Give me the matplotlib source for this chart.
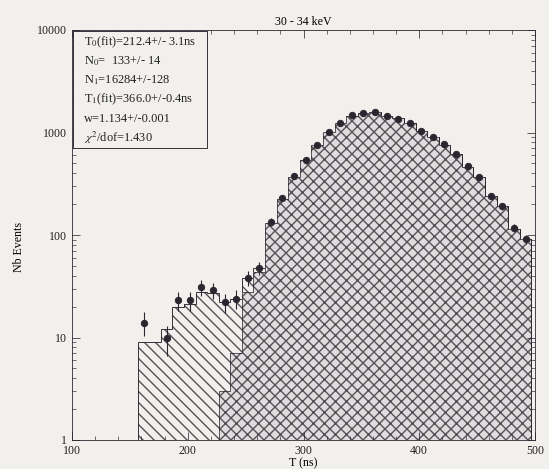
import numpy as np
import matplotlib
matplotlib.use('Agg')
import matplotlib.pyplot as plt
from matplotlib.ticker import MultipleLocator, LogLocator, FuncFormatter, NullFormatter
from matplotlib.patches import Rectangle

# binning of the time spectrum (ns)
bin_lo = 156.8
bin_w = 10.0
n_bins = 34

# measured counts per bin (nan = empty bin)
counts = [14, np.nan, 9.8, 23, 23, 31, 29, 22, 24, 38,
          48, 134, 228, 375, 540, 760, 1020, 1250, 1480, 1560,
          1580, 1450, 1360, 1250, 1040, 910, 770, 620, 470, 365,
          242, 190, 117, 91]

# fitted components: early peak (T0) and main peak (T1)
fit_t0 = [9, 9, 12, 20, 21, 28, 27, 19, 17, 10, 4, 1] + [0] * 22
fit_t1 = [0] * 7 + [3, 7, 28, 44, 130, 225, 370, 535, 750, 1010,
                    1240, 1460, 1550, 1570, 1460, 1370, 1240, 1030, 910, 760,
                    615, 465, 365, 240, 190, 115, 92]

fit_lines = ["T$_0$(fit)=212.4+/- 3.1ns",
             "N$_0$=  133+/- 14",
             "N$_1$=16284+/-128",
             "T$_1$(fit)=366.0+/-0.4ns",
             "w=1.134+/-0.001",
             "$\\chi^2$/dof=1.430"]

title = "30 - 34 keV"
xticks = [100, 200, 300, 400, 500]
yticks = [1, 10, 100, 1000, 10000]

bg = '#f2f0ed'
ink = '#2b2530'
hatch_col = '#555058'

plt.rcParams['font.family'] = ['Liberation Serif', 'DejaVu Serif']
plt.rcParams['mathtext.fontset'] = 'stix'
plt.rcParams['hatch.linewidth'] = 1.5

DPI = 66
fig = plt.figure(figsize=(549 / DPI, 469 / DPI), dpi=DPI, facecolor=bg)
ax = fig.add_axes([72 / 549, 1 - 440 / 469, 463 / 549, 410 / 469])
ax.set_facecolor(bg)

edges = bin_lo + bin_w * np.arange(n_bins + 1)
centers = edges[:-1] + bin_w / 2
t0 = np.array(fit_t0, dtype=float)
t1 = np.array(fit_t1, dtype=float)
total = t0 + t1
data = np.array(counts, dtype=float)

# total fit, then the main component on top of it
ax.stairs(np.clip(total, 1, None), edges, baseline=1, fill=True,
          facecolor=bg, edgecolor=hatch_col, hatch='\\\\', lw=0)
ax.stairs(np.clip(total, 1, None), edges, baseline=1, color=ink, lw=1)
ax.stairs(np.clip(t1, 1, None), edges, baseline=1, fill=True,
          facecolor='#dedcdc', edgecolor=hatch_col, hatch='xx', lw=0)
ax.stairs(np.clip(t1, 1, None), edges, baseline=1, color=ink, lw=0.8)

ax.errorbar(centers, data, yerr=np.sqrt(data), fmt='o', ms=7,
            color=ink, ecolor=ink, elinewidth=1.2, capsize=0, zorder=5)

ax.set_yscale('log')
ax.set_xlim(100, 500)
ax.set_ylim(1, 10000)
ax.set_xticks(xticks)
ax.xaxis.set_minor_locator(MultipleLocator(20))
ax.set_yticks(yticks)
ax.yaxis.set_major_formatter(FuncFormatter(lambda v, p: '%g' % v))
ax.yaxis.set_minor_locator(LogLocator(base=10, subs=np.arange(2, 10)))
ax.yaxis.set_minor_formatter(NullFormatter())
ax.tick_params(which='both', direction='in', top=True, right=True,
               labelsize=13, color=ink, labelcolor='#222')
ax.tick_params(which='major', length=9, width=0.8, pad=6)
ax.tick_params(which='minor', length=4.5, width=0.7)
for s in ax.spines.values():
    s.set_color(ink)
    s.set_linewidth(0.9)

ax.set_xlabel("T (ns)", fontsize=13, labelpad=0)
ax.set_ylabel("Nb Events", fontsize=13)
ax.yaxis.set_label_coords(-0.1015, 0.47)
ax.set_title(title, fontsize=13, pad=5)

# box with the fit results
ax.add_patch(Rectangle((0.002, 0.712), 0.29, 0.286, transform=ax.transAxes,
                       facecolor=bg, edgecolor=ink, lw=1, zorder=6))
for i, line in enumerate(fit_lines):
    ax.text(0.025, 0.971 - i * 0.0468, line, transform=ax.transAxes,
            fontsize=13.5, va='center', ha='left', color='#222', zorder=7)

fig.savefig('out.png', dpi=DPI, facecolor=bg)
